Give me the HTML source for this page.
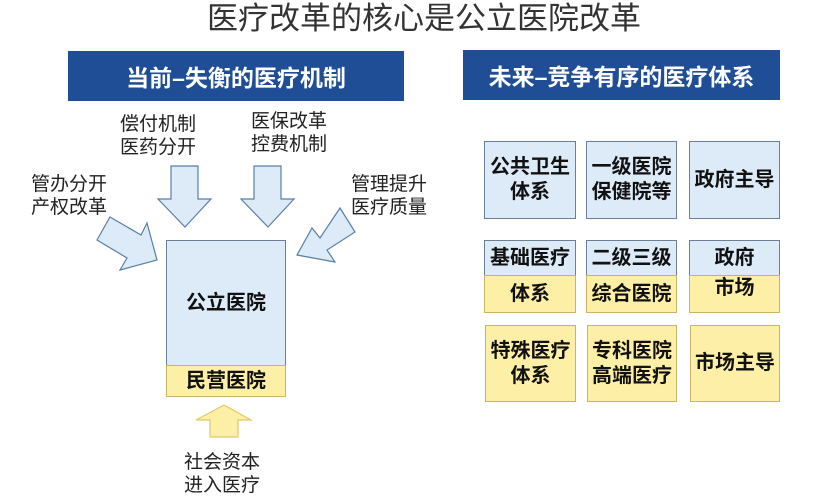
<!DOCTYPE html><html><head><meta charset="utf-8"><style>
body{margin:0;width:824px;height:497px;background:#fff;position:relative;overflow:hidden;font-family:"Liberation Sans","Noto Sans CJK SC",sans-serif}
.a{position:absolute}
.t{font-size:19px;line-height:23px;color:#222}
.hd{background:#1f4e96;color:#fff;font-weight:bold;font-size:23px;display:flex;align-items:center;justify-content:center}
.b{position:absolute;border:1px solid #6b7f96;background:#dcebf7;box-sizing:border-box;display:flex;align-items:center;justify-content:center;text-align:center;font-weight:bold;font-size:20px;line-height:25px;color:#111}
.y{background:#fdf0a6;border-color:#c9b46a}
</style></head><body>
<div class="a" style="left:0;width:848px;top:0;text-align:center;font-size:31px;line-height:38px;color:#333">医疗改革的核心是公立医院改革</div>
<div class="a hd" style="left:68px;top:51px;width:336px;height:50px">当前–失衡的医疗机制</div>
<div class="a hd" style="left:463px;top:50px;width:317px;height:50px">未来–竞争有序的医疗体系</div>
<div class="a t" style="left:120px;top:113px">偿付机制<br>医药分开</div>
<div class="a t" style="left:251px;top:110px">医保改革<br>控费机制</div>
<div class="a t" style="left:31px;top:173px">管办分开<br>产权改革</div>
<div class="a t" style="left:351px;top:173px">管理提升<br>医疗质量</div>
<div class="a t" style="left:184px;top:451px">社会资本<br>进入医疗</div>
<svg class="a" style="left:0;top:0" width="824" height="497">
<g fill="#dcebf7" stroke="#5a7fa8" stroke-width="1.2">
<polygon points="171,166 198,166 198,199 211,199 185,227 158,199 171,199"/>
<polygon points="254,166 281,166 281,199 294,199 268,227 241,199 254,199"/>
<polygon points="110,217 141,235 147,223 157,260 120,270 127,258 97,240"/>
<polygon points="340,208 355,232 327,250 335,262 297,255 312,228 320,238"/>
</g>
<polygon points="224,405 251,420 238,420 238,437 210,437 210,420 196,420" fill="#fdf0a6" stroke="#e0c96a" stroke-width="1.2"/>
</svg>
<div class="b" style="left:166px;top:240px;width:120px;height:126px">公立医院</div>
<div class="b y" style="left:166px;top:365px;width:120px;height:32px">民营医院</div>
<div class="b" style="left:484px;top:141px;width:92px;height:78px">公共卫生<br>体系</div>
<div class="b" style="left:586px;top:141px;width:91px;height:78px">一级医院<br>保健院等</div>
<div class="b" style="left:689px;top:141px;width:91px;height:78px">政府主导</div>
<div class="b" style="left:484px;top:240px;width:92px;height:36px">基础医疗</div>
<div class="b y" style="left:484px;top:275px;width:92px;height:38px">体系</div>
<div class="b" style="left:586px;top:240px;width:91px;height:36px">二级三级</div>
<div class="b y" style="left:586px;top:275px;width:91px;height:38px">综合医院</div>
<div class="b" style="left:689px;top:240px;width:91px;height:36px">政府</div>
<div class="b y" style="left:689px;top:275px;width:91px;height:38px;align-items:flex-start">市场</div>
<div class="b y" style="left:485px;top:325px;width:91px;height:77px">特殊医疗<br>体系</div>
<div class="b y" style="left:587px;top:325px;width:90px;height:77px">专科医院<br>高端医疗</div>
<div class="b y" style="left:690px;top:325px;width:90px;height:77px">市场主导</div>
</body></html>
